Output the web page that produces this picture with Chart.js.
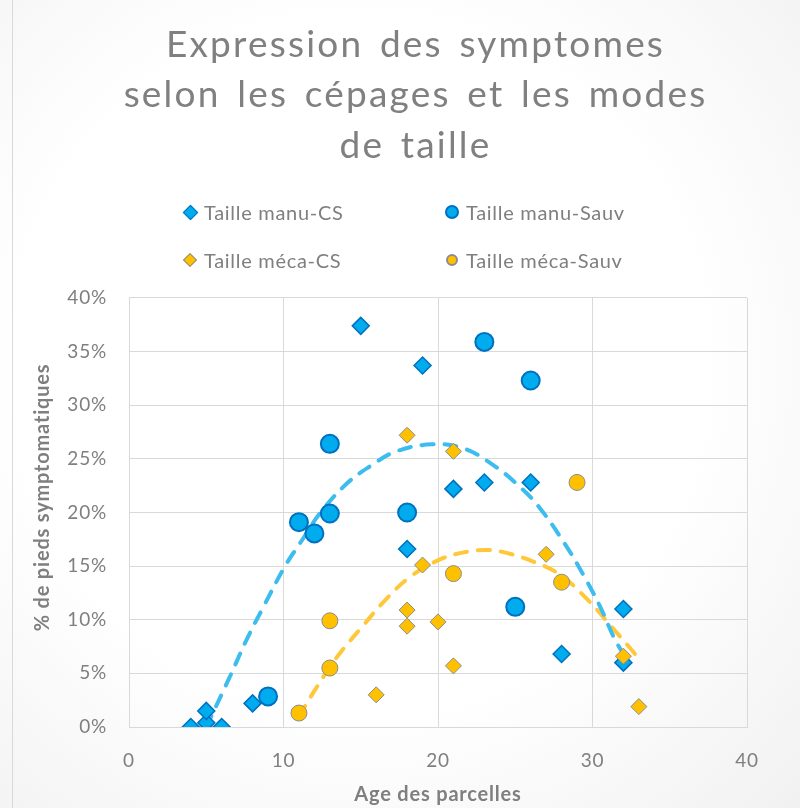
<!DOCTYPE html>
<html>
<head>
<meta charset="utf-8">
<script src="https://cdn.jsdelivr.net/npm/chart.js@4.4.0/dist/chart.umd.min.js"></script>
<style>
  html, body { margin: 0; padding: 0; }
  body {
    width: 800px; height: 808px; overflow: hidden; position: relative;
    background: radial-gradient(ellipse at 45% 45%, #ffffff 55%, #f1f1f1 100%);
    font-family: Lato, "Open Sans", sans-serif;
  }
  #frame { position: absolute; left: 12px; top: 0; width: 1px; height: 808px; background: #d9d9d9; }
  #wrap { position: absolute; left: 0; top: 0; width: 800px; height: 808px; }
  .legend { position: absolute; font-size: 20px; letter-spacing: 0.7px; color: #7f7f7f; line-height: 22px; white-space: nowrap; }
  .legend span.m { display: inline-block; position: absolute; box-sizing: border-box; }
</style>
</head>
<body>
<div id="frame"></div>
<div id="wrap"><canvas id="symptomChart" width="800" height="808"></canvas></div>
<div id="legend"></div>
<script>
// Taille manu - Cabernet Sauvignon (losanges bleus)
const manuCsAge = [4, 5, 5, 6, 8, 15, 19, 18, 21, 23, 26, 28, 32, 32];
const manuCsPct = [0, 0.4, 1.5, 0, 2.2, 37.4, 33.7, 16.6, 22.2, 22.8, 22.8, 6.8, 11.0, 6.0];

// Taille manu - Sauvignon (ronds bleus)
const manuSauvAge = [9, 11, 12, 13, 13, 18, 23, 25, 26];
const manuSauvPct = [2.85, 19.1, 18.05, 19.9, 26.4, 20.0, 35.9, 11.2, 32.3];

// Taille méca - Cabernet Sauvignon (losanges jaunes)
const mecaCsAge = [16, 18, 18, 18, 19, 20, 21, 21, 27, 32, 33];
const mecaCsPct = [3.0, 27.2, 10.9, 9.4, 15.1, 9.8, 25.7, 5.7, 16.1, 6.6, 1.9];

// Taille méca - Sauvignon (ronds jaunes)
const mecaSauvAge = [11, 13, 13, 21, 28, 29];
const mecaSauvPct = [1.3, 9.9, 5.5, 14.3, 13.5, 22.8];

// courbes de tendance
const trendManuAge = [5, 6.5, 7.6, 8.7, 10.1, 11.1, 12.4, 14.1, 15.6, 17.3, 19.6, 21.6, 23.6, 25.4, 26.6, 28.2, 29.4, 30.5, 31.4, 32];
const trendManuPct = [0, 4.6, 8.1, 11.2, 15.0, 17.2, 20.0, 22.7, 24.3, 25.7, 26.35, 26.0, 24.4, 22.25, 20.4, 17.1, 14.2, 11.2, 8.3, 6.8];
const trendMecaAge = [11, 12.1, 13.2, 14.0, 15.0, 16.6, 18.2, 20.1, 21.9, 23.0, 24.1, 26.2, 27.9, 29.7, 31.2, 32.7, 33];
const trendMecaPct = [1.0, 3.6, 6.0, 7.5, 9.2, 11.85, 14.0, 15.6, 16.35, 16.5, 16.35, 15.4, 14.2, 11.85, 9.4, 6.9, 6.3];

const xTicks = [0, 10, 20, 30, 40];
const yTicks = [0, 5, 10, 15, 20, 25, 30, 35, 40];

const seriesNames = ['Taille manu-CS', 'Taille manu-Sauv', 'Taille méca-CS', 'Taille méca-Sauv'];

const blueFill = '#00ABEE';
const blueEdge = '#0070C0';
const goldFill = '#FFC000';
const goldEdge = '#8c8c8c';
const textGrey = '#7f7f7f';

const toPoints = (xs, ys) => xs.map((x, i) => ({ x: x, y: ys[i] }));

const trendStyle = (color) => ({
    type: 'line',
    showLine: true,
    pointRadius: 0,
    borderColor: color,
    borderWidth: 4,
    borderDash: [12, 11],
    borderCapStyle: 'round',
    tension: 0.4,
    fill: false,
    order: 10,
});

// espacement des lettres façon Excel, titre décalé comme dans l'original
const excelText = {
    id: 'excelText',
    beforeDraw(chart) {
        chart.ctx.letterSpacing = '0.8px';
        const tb = chart.titleBlock;
        if (tb && !tb._patched) {
            const orig = tb.draw.bind(tb);
            tb.draw = function () {
                const c = this.ctx;
                c.save();
                c.translate(42, 0);
                c.letterSpacing = '2.2px';
                c.wordSpacing = '5px';
                orig();
                c.restore();
            };
            tb._patched = true;
        }
        const ys = chart.scales.y;
        if (ys && !ys._patched) {
            const origTitle = ys.drawTitle.bind(ys);
            ys.drawTitle = function () {
                const c = this.ctx;
                c.save();
                c.translate(0, -15);
                origTitle();
                c.restore();
            };
            ys._patched = true;
        }
    },
};

const ctx = document.getElementById('symptomChart').getContext('2d');
new Chart(ctx, {
    type: 'scatter',
    data: {
        datasets: [
            {
                label: seriesNames[0],
                data: toPoints(manuCsAge, manuCsPct),
                pointStyle: 'rectRot',
                pointRadius: 8.5,
                backgroundColor: blueFill,
                borderColor: blueEdge,
                borderWidth: 1.5,
                order: 3,
            },
            {
                label: seriesNames[1],
                data: toPoints(manuSauvAge, manuSauvPct),
                pointStyle: 'circle',
                pointRadius: 9,
                backgroundColor: blueFill,
                borderColor: blueEdge,
                borderWidth: 2,
                order: 2,
            },
            {
                label: seriesNames[2],
                data: toPoints(mecaCsAge, mecaCsPct),
                pointStyle: 'rectRot',
                pointRadius: 8,
                backgroundColor: goldFill,
                borderColor: goldEdge,
                borderWidth: 1,
                order: 1,
            },
            {
                label: seriesNames[3],
                data: toPoints(mecaSauvAge, mecaSauvPct),
                pointStyle: 'circle',
                pointRadius: 8,
                backgroundColor: goldFill,
                borderColor: goldEdge,
                borderWidth: 1,
                order: 0,
            },
            Object.assign({ label: 'trend manu', data: toPoints(trendManuAge, trendManuPct) }, trendStyle('#3DBDEE')),
            Object.assign({ label: 'trend meca', data: toPoints(trendMecaAge, trendMecaPct) }, trendStyle('#FFC83A')),
        ],
    },
    options: {
        responsive: false,
        animation: false,
        layout: { padding: { left: 0, right: 53, top: 0, bottom: 0 } },
        plugins: {
            legend: { display: false },
            tooltip: { enabled: false },
            title: {
                display: true,
                text: ['Expression des symptomes', 'selon les cépages et les modes', 'de taille'],
                color: '#808080',
                font: { family: 'Lato', size: 37, weight: 'normal', lineHeight: 1.36 },
                padding: { top: 20, bottom: 127 },
            },
        },
        scales: {
            x: {
                type: 'linear',
                min: 0,
                max: 40,
                afterBuildTicks: (axis) => { axis.ticks = xTicks.map(v => ({ value: v })); },
                afterFit: (axis) => { axis.height = 81; },
                grid: { color: '#d9d9d9', drawTicks: false },
                border: { color: '#d9d9d9' },
                ticks: { color: textGrey, font: { family: 'Lato', size: 19 }, padding: 22 },
                title: {
                    display: true,
                    text: 'Age des parcelles',
                    color: textGrey,
                    font: { family: 'Lato', size: 20, weight: 'bold' },
                    padding: { bottom: 1 },
                },
            },
            y: {
                type: 'linear',
                min: 0,
                max: 40,
                afterBuildTicks: (axis) => { axis.ticks = yTicks.map(v => ({ value: v })); },
                afterFit: (axis) => { axis.width = 129; },
                grid: { color: '#d9d9d9', drawTicks: false },
                border: { color: '#d9d9d9' },
                ticks: { color: textGrey, font: { family: 'Lato', size: 19 }, padding: 22, callback: (v) => v + '%' },
                title: {
                    display: true,
                    text: '% de pieds symptomatiques',
                    color: textGrey,
                    font: { family: 'Lato', size: 20, weight: 'bold' },
                    padding: { top: 31 },
                },
            },
        },
    },
    plugins: [excelText],
});

// légende sur deux colonnes, comme dans l'original
const legendItems = [
    { name: seriesNames[0], x: 190, y: 212, shape: 'diamond', size: 11, fill: blueFill, edge: blueEdge },
    { name: seriesNames[1], x: 452, y: 212, shape: 'circle', size: 14, fill: blueFill, edge: blueEdge },
    { name: seriesNames[2], x: 190, y: 260, shape: 'diamond', size: 10, fill: goldFill, edge: goldEdge },
    { name: seriesNames[3], x: 452, y: 260, shape: 'circle', size: 12, fill: goldFill, edge: goldEdge },
];
const legendEl = document.getElementById('legend');
legendItems.forEach(item => {
    const div = document.createElement('div');
    div.className = 'legend';
    div.style.left = (item.x + 14) + 'px';
    div.style.top = (item.y - 11) + 'px';
    div.textContent = item.name;
    const m = document.createElement('span');
    m.className = 'm';
    m.style.width = item.size + 'px';
    m.style.height = item.size + 'px';
    m.style.left = (-14 - item.size / 2) + 'px';
    m.style.top = (11 - item.size / 2) + 'px';
    m.style.background = item.fill;
    m.style.border = (item.shape === 'circle' ? 2 : 1.5) + 'px solid ' + item.edge;
    if (item.shape === 'circle') m.style.borderRadius = '50%';
    else m.style.transform = 'rotate(45deg)';
    div.appendChild(m);
    legendEl.appendChild(div);
});
</script>
</body>
</html>
